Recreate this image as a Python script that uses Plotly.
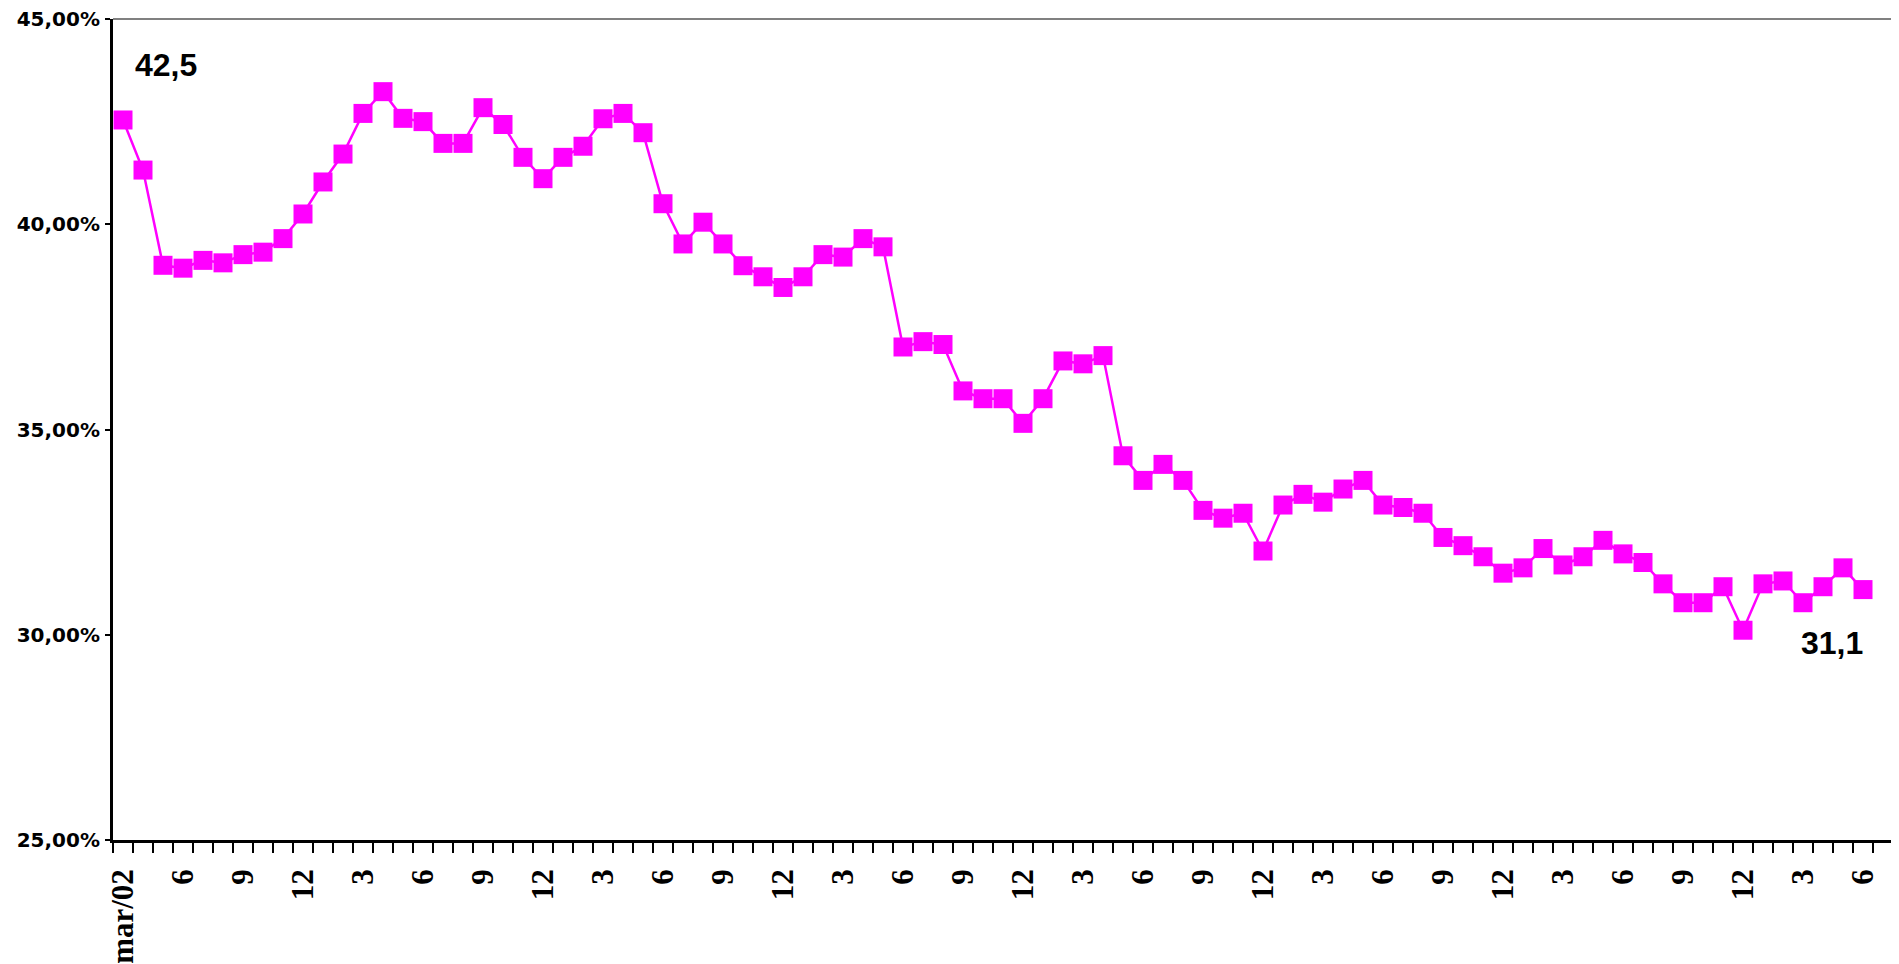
import plotly.graph_objects as go

# Monthly values, mar/2002 .. jun/2009 (88 months), in %
values = [
    42.54, 41.32, 39.00, 38.93, 39.12, 39.06, 39.26, 39.32, 39.65, 40.25,
    41.03, 41.71, 42.70, 43.23, 42.58, 42.50, 41.97, 41.97, 42.84, 42.43,
    41.63, 41.11, 41.63, 41.90, 42.57, 42.70, 42.23, 40.50, 39.52, 40.05,
    39.52, 38.99, 38.72, 38.46, 38.72, 39.26, 39.20, 39.65, 39.45, 37.01,
    37.14, 37.07, 35.94, 35.75, 35.75, 35.15, 35.75, 36.67, 36.60, 36.80,
    34.36, 33.76, 34.15, 33.76, 33.03, 32.84, 32.96, 32.04, 33.16, 33.42,
    33.23, 33.55, 33.76, 33.16, 33.10, 32.96, 32.37, 32.17, 31.90, 31.50,
    31.63, 32.10, 31.70, 31.90, 32.30, 31.97, 31.76, 31.24, 30.78, 30.78,
    31.17, 30.11, 31.24, 31.31, 30.78, 31.17, 31.63, 31.10,
]

# Quarterly tick labels (every 3rd month)
tick_labels = [
    "mar/02", "6", "9", "12", "3", "6", "9", "12", "3", "6",
    "9", "12", "3", "6", "9", "12", "3", "6", "9", "12",
    "3", "6", "9", "12", "3", "6", "9", "12", "3", "6",
]

y_tick_vals = [25, 30, 35, 40, 45]
y_tick_text = ["25,00%", "30,00%", "35,00%", "40,00%", "45,00%"]

n_categories = len(values) + 1  # axis keeps one empty slot after the last month

x_idx = list(range(len(values)))
tick_positions = x_idx[::3]

magenta = "#FF00FF"

fig = go.Figure()
fig.add_trace(go.Scatter(
    x=x_idx, y=values, mode="lines+markers",
    line=dict(color=magenta, width=2.5),
    marker=dict(symbol="square", size=19, color=magenta, line=dict(width=0)),
    cliponaxis=False, showlegend=False, hoverinfo="x+y",
))

def fmt(v):
    return f"{v:.1f}".replace(".", ",")

ann_font = dict(family="Liberation Sans", size=32, color="black", weight="bold")
fig.add_annotation(x=2.15, y=43.88, xref="x", yref="y", text=fmt(values[0]),
                   showarrow=False, font=ann_font)
fig.add_annotation(x=85.45, y=29.8, xref="x", yref="y", text=fmt(values[-1]),
                   showarrow=False, font=ann_font)

# gray top and right frame
fig.add_shape(type="line", xref="paper", yref="paper", x0=0, x1=1, y0=1, y1=1,
              line=dict(color="#808080", width=2))
fig.add_shape(type="line", xref="paper", yref="paper", x0=1, x1=1, y0=0, y1=1,
              line=dict(color="#808080", width=2))

# the page body adds an 8px margin, so the figure is sized to fit the window
fig.update_layout(
    width=1891, height=956,
    margin=dict(l=105, r=6, t=11, b=124),
    paper_bgcolor="white", plot_bgcolor="white",
    showlegend=False,
    xaxis=dict(
        range=[-0.5, n_categories - 0.5],
        automargin=False,
        tickmode="array", tickvals=tick_positions, ticktext=tick_labels,
        tickangle=-90, ticks="", showgrid=False, zeroline=False,
        showline=True, linecolor="black", linewidth=2.5,
        tickfont=dict(family="Liberation Serif", size=31, color="black", weight="bold"),
        ticklabelstandoff=14, ticklabeloverflow="allow",
        minor=dict(tickmode="linear", tick0=-0.5, dtick=1, ticks="outside",
                   ticklen=10, tickwidth=2, tickcolor="black", showgrid=False),
    ),
    yaxis=dict(
        range=[25, 45],
        automargin=False,
        tickmode="array", tickvals=y_tick_vals, ticktext=y_tick_text,
        ticks="outside", ticklen=5, tickwidth=2, tickcolor="black",
        showgrid=False, zeroline=False,
        showline=True, linecolor="black", linewidth=3,
        tickfont=dict(family="DejaVu Sans", size=20, color="black", weight="bold"),
        ticklabelstandoff=1, ticklabeloverflow="allow",
    ),
)

fig.write_html("out.html")
